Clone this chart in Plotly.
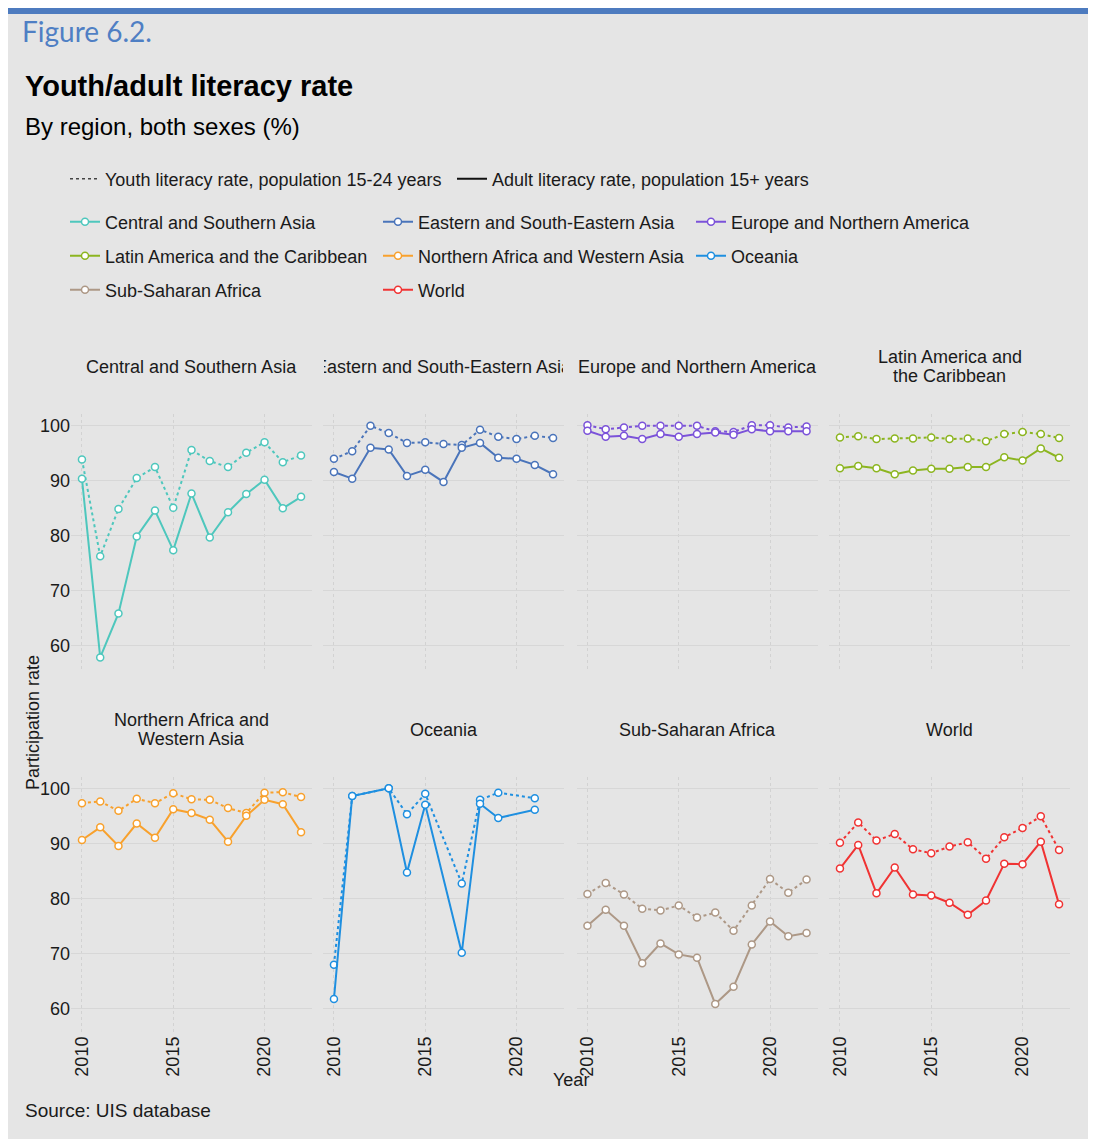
import plotly.graph_objects as go

# page renders the figure with an 8px body margin; work in reference-screen pixels
OFF = 8
W, H = 1096 - 2 * OFF, 1147 - 2 * OFF

years = list(range(2010, 2023))

regions = [
    "Central and Southern Asia",
    "Eastern and South-Eastern Asia",
    "Europe and Northern America",
    "Latin America and the Caribbean",
    "Northern Africa and Western Asia",
    "Oceania",
    "Sub-Saharan Africa",
    "World",
]

strip_titles = [
    ["Central and Southern Asia"],
    ["Eastern and South-Eastern Asia"],
    ["Europe and Northern America"],
    ["Latin America and", "the Caribbean"],
    ["Northern Africa and", "Western Asia"],
    ["Oceania"],
    ["Sub-Saharan Africa"],
    ["World"],
]

colors = ["#4ec7bd", "#4a74ba", "#7b52d9", "#8cb520", "#f8a12d", "#1e8fe0", "#ad9886", "#f03333"]

youth_csa = [93.8, 76.2, 84.8, 90.4, 92.4, 85.0, 95.5, 93.5, 92.4, 95.0, 96.9, 93.3, 94.5]
adult_csa = [90.3, 57.8, 65.8, 79.8, 84.5, 77.3, 87.6, 79.6, 84.2, 87.5, 90.1, 84.9, 87.0]

youth_esa = [93.9, 95.3, 99.9, 98.6, 96.8, 96.9, 96.6, 96.4, 99.2, 97.9, 97.5, 98.1, 97.7]
adult_esa = [91.5, 90.3, 95.9, 95.6, 90.8, 91.9, 89.7, 95.9, 96.8, 94.1, 93.9, 92.8, 91.1]

youth_ena = [100.0, 99.3, 99.6, 99.9, 99.9, 99.9, 99.9, 98.9, 98.8, 100.0, 100.0, 99.6, 99.8]
adult_ena = [99.0, 97.9, 98.1, 97.5, 98.4, 97.9, 98.4, 98.7, 98.3, 99.3, 98.9, 98.9, 98.9]

youth_lac = [97.8, 98.0, 97.5, 97.6, 97.6, 97.8, 97.5, 97.6, 97.1, 98.4, 98.8, 98.4, 97.7]
adult_lac = [92.2, 92.6, 92.2, 91.1, 91.8, 92.1, 92.1, 92.4, 92.4, 94.2, 93.6, 95.8, 94.1]

youth_nawa = [97.3, 97.6, 95.9, 98.1, 97.3, 99.1, 98.0, 97.9, 96.4, 95.5, 99.2, 99.3, 98.4]
adult_nawa = [90.6, 92.9, 89.5, 93.6, 91.0, 96.2, 95.5, 94.3, 90.3, 95.0, 97.9, 97.1, 92.0]

youth_oce = [67.9, 98.6, None, 100.0, 95.3, 99.0, None, 82.7, 97.9, 99.2, None, 98.2, None]
adult_oce = [61.7, 98.6, None, 100.0, 84.7, 97.0, None, 70.1, 97.2, 94.6, None, 96.1, None]

youth_ssa = [80.8, 82.8, 80.7, 78.1, 77.8, 78.7, 76.5, 77.4, 74.1, 78.7, 83.5, 81.0, 83.4]
adult_ssa = [75.0, 77.9, 75.0, 68.2, 71.8, 69.8, 69.2, 60.8, 63.9, 71.6, 75.8, 73.1, 73.7]

youth_world = [90.1, 93.8, 90.5, 91.7, 88.9, 88.2, 89.4, 90.2, 87.2, 91.1, 92.8, 94.9, 88.8]
adult_world = [85.4, 89.7, 80.9, 85.6, 80.7, 80.5, 79.2, 77.0, 79.6, 86.3, 86.2, 90.3, 78.9]

youth = [youth_csa, youth_esa, youth_ena, youth_lac, youth_nawa, youth_oce, youth_ssa, youth_world]
adult = [adult_csa, adult_esa, adult_ena, adult_lac, adult_nawa, adult_oce, adult_ssa, adult_world]

x_ticks = [2010, 2015, 2020]
y_ticks = [60, 70, 80, 90, 100]
x_range = [2009.4, 2022.6]
y_range = [55.69, 102.11]

# layout geometry (reference screen pixels)
col_px = [(71, 312), (323, 564), (576.5, 817.5), (829, 1070)]
row_px = [(413.7, 669), (776.7, 1032)]


def px_x(x):
    return min(max((x - OFF) / W, 0), 1)


def px_y(y):
    return min(max(1 - (y - OFF) / H, 0), 1)


FONT = "Liberation Sans, Arial, sans-serif"
TXT = "#1a1a1a"
GRID = "#d7d7d7"
VGRID = "#d2d2d2"
BG = "#e5e5e5"

fig = go.Figure()

legend_for = ["legend2", "legend2", "legend2", "legend3", "legend3", "legend3", "legend4", "legend4"]

for i, reg in enumerate(regions):
    ax = "" if i == 0 else str(i + 1)
    c = colors[i]
    fig.add_trace(go.Scatter(
        x=years, y=youth[i], mode="lines+markers", connectgaps=True,
        line=dict(color=c, width=2, dash="dot"),
        marker=dict(size=7, color="white", line=dict(color=c, width=1.5)),
        xaxis="x" + ax, yaxis="y" + ax, showlegend=False, name=reg,
        hovertemplate="%{x}: %{y}<extra>" + reg + " (youth)</extra>",
    ))
    fig.add_trace(go.Scatter(
        x=years, y=adult[i], mode="lines+markers", connectgaps=True,
        line=dict(color=c, width=2),
        marker=dict(size=7, color="white", line=dict(color=c, width=1.5)),
        xaxis="x" + ax, yaxis="y" + ax, showlegend=True, name=reg,
        legend=legend_for[i],
        hovertemplate="%{x}: %{y}<extra>" + reg + " (adult)</extra>",
    ))

# line-style legend entries
fig.add_trace(go.Scatter(x=[None], y=[None], mode="lines", name="Youth literacy rate, population 15-24 years",
                         line=dict(color="#444444", width=1.5, dash="dot"), legend="legend", showlegend=True))
fig.add_trace(go.Scatter(x=[None], y=[None], mode="lines", name="Adult literacy rate, population 15+ years",
                         line=dict(color="#111111", width=2), legend="legend", showlegend=True))

layout = dict(
    width=W, height=H, autosize=False,
    margin=dict(l=0, r=0, t=0, b=0, pad=0),
    paper_bgcolor="white", plot_bgcolor=BG,
    font=dict(family=FONT, size=18, color=TXT),
)

for i in range(8):
    r, cidx = divmod(i, 4)
    ax = "" if i == 0 else str(i + 1)
    x0, x1 = col_px[cidx]
    y0, y1 = row_px[r]
    layout["xaxis" + ax] = dict(
        domain=[px_x(x0), px_x(x1)], range=x_range, tickvals=x_ticks,
        ticktext=[str(t) for t in x_ticks], tickangle=-90,
        showticklabels=(r == 1), showgrid=True, gridcolor=VGRID, griddash="dot", gridwidth=1,
        zeroline=False, showline=False, ticks="", anchor="y" + ax,
        tickfont=dict(family=FONT, size=18, color=TXT), fixedrange=True,
    )
    layout["yaxis" + ax] = dict(
        domain=[px_y(y1), px_y(y0)], range=y_range, tickvals=y_ticks,
        showticklabels=(cidx == 0), showgrid=True, gridcolor=GRID, gridwidth=1,
        zeroline=False, showline=False, ticks="", anchor="x" + ax,
        tickfont=dict(family=FONT, size=18, color=TXT), fixedrange=True,
    )

leg_common = dict(
    orientation="h", xanchor="left", yanchor="middle", x=px_x(65),
    bgcolor="rgba(0,0,0,0)", borderwidth=0,
    font=dict(family=FONT, size=18, color=TXT),
)
layout["legend"] = dict(leg_common, y=px_y(179), entrywidth=342, entrywidthmode="pixels")
layout["legend2"] = dict(leg_common, y=px_y(222), entrywidth=268, entrywidthmode="pixels")
layout["legend3"] = dict(leg_common, y=px_y(256), entrywidth=268, entrywidthmode="pixels")
layout["legend4"] = dict(leg_common, y=px_y(290), entrywidth=268, entrywidthmode="pixels")

shapes = [
    dict(type="rect", xref="paper", yref="paper", x0=0, x1=px_x(1091), y0=0, y1=1,
         fillcolor=BG, line=dict(width=0), layer="below"),
    dict(type="rect", xref="paper", yref="paper", x0=0, x1=px_x(1091), y0=px_y(14), y1=1,
         fillcolor="#4d7bbf", line=dict(width=0), layer="above"),
]

annotations = [
    dict(text="Figure 6.2.", x=px_x(20), y=px_y(31), xref="paper", yref="paper", xanchor="left", yanchor="middle",
         showarrow=False, font=dict(family="Lato, sans-serif", size=28, color="#4f7fc4")),
    dict(text="<b>Youth/adult literacy rate</b>", x=px_x(23), y=px_y(86), xref="paper", yref="paper",
         xanchor="left", yanchor="middle", showarrow=False, font=dict(family=FONT, size=29, color="black")),
    dict(text="By region, both sexes (%)", x=px_x(23), y=px_y(126), xref="paper", yref="paper",
         xanchor="left", yanchor="middle", showarrow=False, font=dict(family=FONT, size=24, color="black")),
    dict(text="Year", x=px_x(571), y=px_y(1080), xref="paper", yref="paper", xanchor="center", yanchor="middle",
         showarrow=False, font=dict(family=FONT, size=18, color=TXT)),
    dict(text="Participation rate", x=px_x(33), y=px_y(723), xref="paper", yref="paper", xanchor="center",
         yanchor="middle", textangle=-90, showarrow=False, font=dict(family=FONT, size=18, color=TXT)),
    dict(text="Source: UIS database", x=px_x(23), y=px_y(1110), xref="paper", yref="paper", xanchor="left",
         yanchor="middle", showarrow=False, font=dict(family=FONT, size=19, color=TXT)),
]

strip_y = [366.5, 729.5]
line_gap = 19
for i, lines in enumerate(strip_titles):
    r, cidx = divmod(i, 4)
    x0, x1 = col_px[cidx]
    n = len(lines)
    for k, t in enumerate(lines):
        yc = strip_y[r] + (k - (n - 1) / 2) * line_gap
        ann = dict(text=t, x=px_x((x0 + x1) / 2), y=px_y(yc), xref="paper", yref="paper",
                   xanchor="center", yanchor="middle", showarrow=False,
                   font=dict(family=FONT, size=18, color=TXT))
        if i == 1:
            ann["width"] = x1 - x0 - 2
        annotations.append(ann)

layout["shapes"] = shapes
layout["annotations"] = annotations

fig.update_layout(**layout)
fig.write_html("out.html")
